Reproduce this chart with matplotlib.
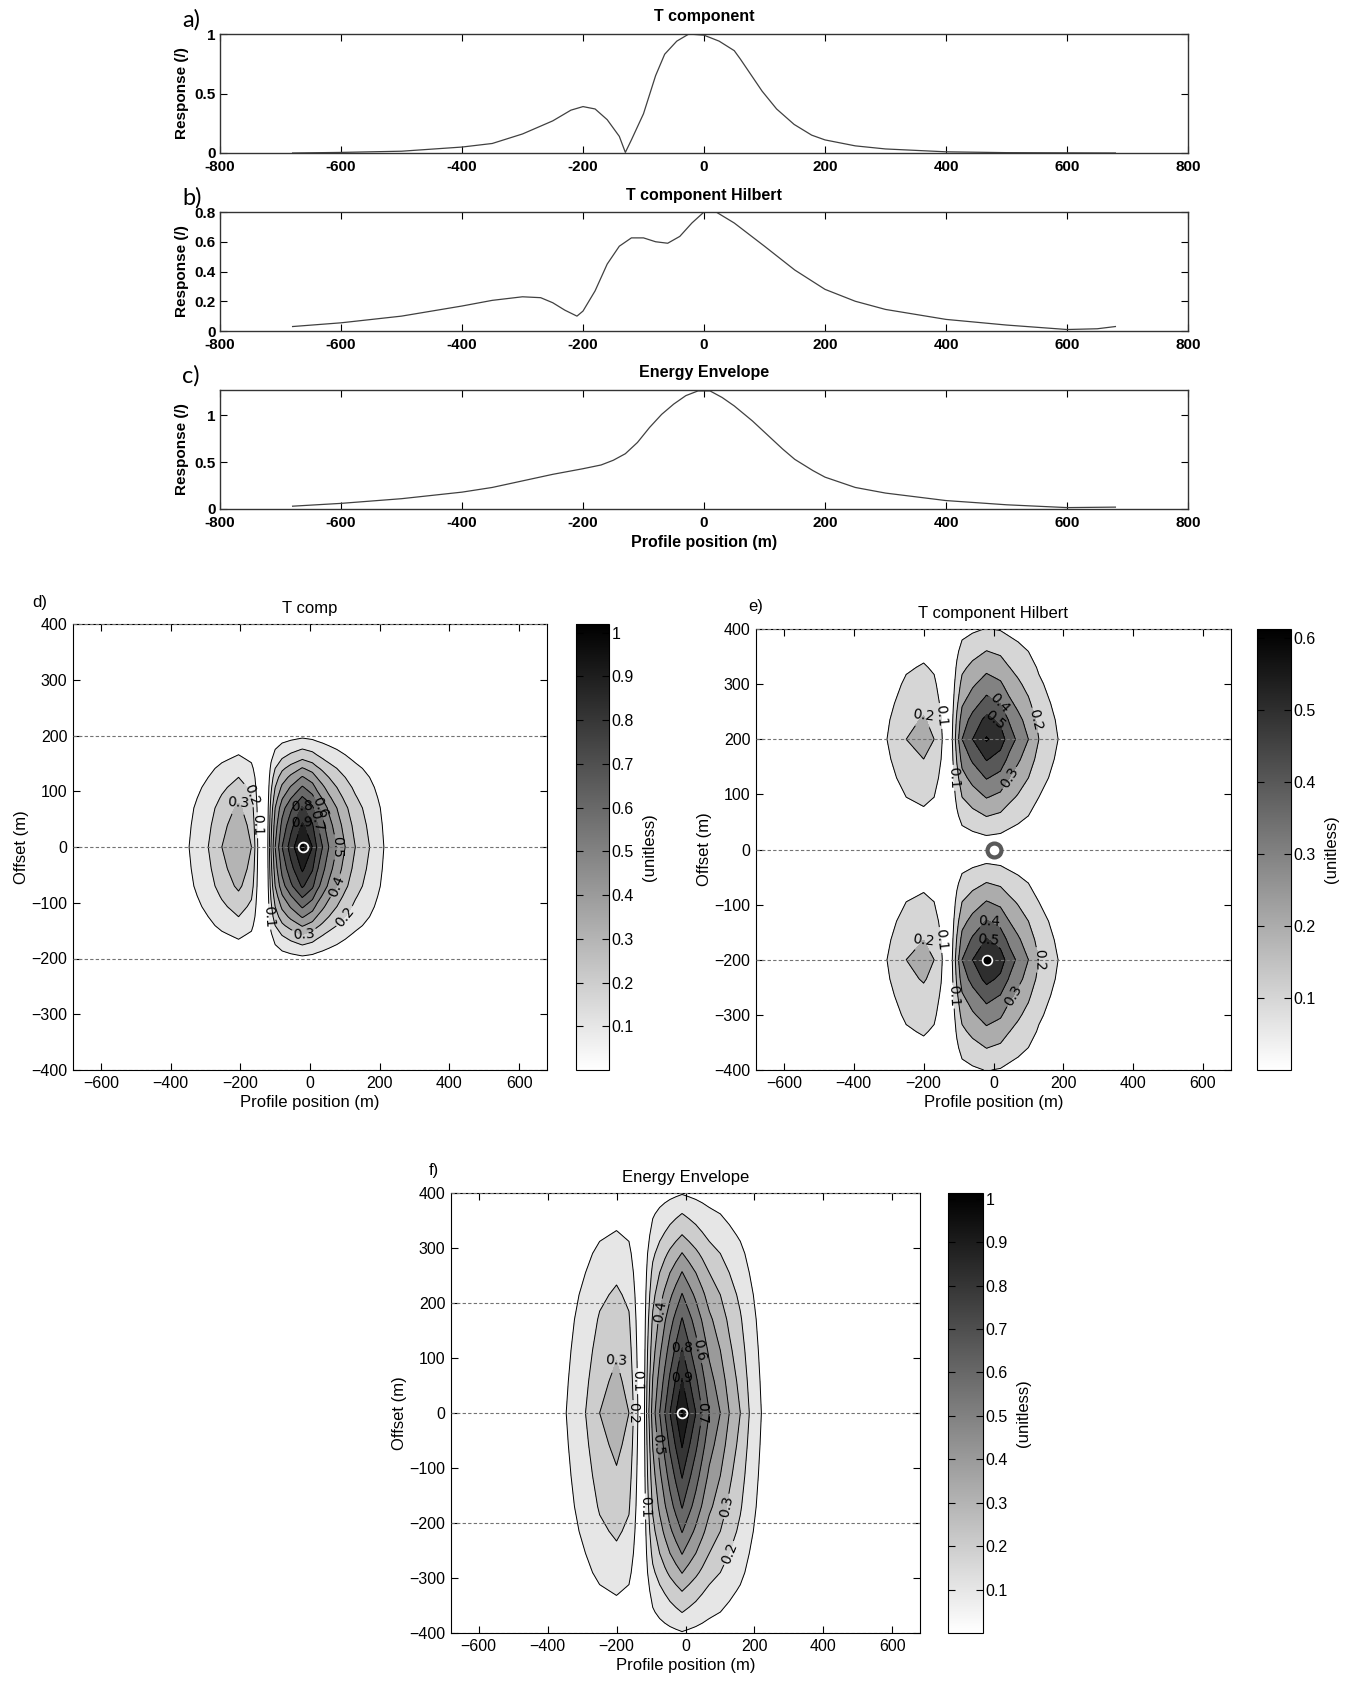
"""
Profile responses (a-c) and plan-view maps (d-f) of the T component,
its Hilbert transform and the energy envelope.
"""

import numpy as np
import matplotlib
matplotlib.use("Agg")
import matplotlib.pyplot as plt
from matplotlib.colors import Normalize
from matplotlib.cm import ScalarMappable

# ── PROFILE CURVES (offset 0) ─────────────────────────────────────
A_X = [-680, -600, -500, -400, -350, -300, -250, -220, -200, -180, -160,
       -140, -130, -120, -100, -80, -65, -45, -25, 0, 25, 50, 60, 96, 120,
       149, 178, 200, 250, 300, 400, 500, 680]
A_Y = [0.0, 0.005, 0.015, 0.05, 0.08, 0.16, 0.27, 0.36, 0.39, 0.37, 0.28,
       0.14, 0.005, 0.11, 0.33, 0.65, 0.83, 0.94, 1.0, 0.99, 0.94, 0.86, 0.79,
       0.52, 0.37, 0.24, 0.15, 0.11, 0.06, 0.034, 0.01, 0.003, 0.0]

B_X = [-680, -600, -500, -400, -350, -300, -270, -250, -230, -210, -200,
       -180, -160, -140, -120, -100, -80, -60, -40, -20, 0, 20, 50, 100, 150,
       200, 250, 300, 400, 500, 600, 650, 680]
B_Y = [0.03, 0.055, 0.10, 0.168, 0.206, 0.23, 0.224, 0.19, 0.14, 0.10, 0.134,
       0.27, 0.45, 0.57, 0.626, 0.626, 0.60, 0.59, 0.636, 0.726, 0.80, 0.80,
       0.726, 0.57, 0.41, 0.28, 0.20, 0.145, 0.078, 0.04, 0.01, 0.015, 0.03]

C_X = [-680, -600, -500, -400, -350, -300, -250, -200, -170, -150, -130,
       -110, -90, -70, -50, -30, -10, 10, 30, 50, 80, 100, 130, 150, 180, 200,
       250, 300, 400, 500, 600, 680]
C_Y = [0.03, 0.06, 0.11, 0.18, 0.23, 0.30, 0.37, 0.43, 0.47, 0.52, 0.59,
       0.71, 0.87, 1.01, 1.12, 1.21, 1.26, 1.26, 1.19, 1.10, 0.94, 0.82, 0.64,
       0.53, 0.41, 0.34, 0.23, 0.17, 0.09, 0.045, 0.015, 0.02]

# ── MAP FIELDS: profile along x  ×  shape along offset (y >= 0) ───
D_X = [-680, -450, -347, -292, -253, -205, -168, -158, -150, -135, -121,
       -112, -100, -80, -55, -22, 7, 19, 36, 54, 77, 101, 130, 171, 212, 280,
       450, 680]
D_P = [0.0, 0.02, 0.1, 0.2, 0.3, 0.4, 0.3, 0.2, 0.1, 0.0, 0.1, 0.3, 0.5,
       0.7, 0.85, 1.02, 0.9, 0.8, 0.7, 0.6, 0.5, 0.4, 0.3, 0.2, 0.1, 0.04,
       0.01, 0.0]
D_OFF = [0, 39, 70, 88, 107, 125, 141, 156, 175, 195, 215, 300, 400]
D_G = [1.0, 0.9, 0.8, 0.7, 0.6, 0.5, 0.4, 0.3, 0.2, 0.1, 0.0, 0.0, 0.0]

E_X = [-680, -500, -400, -350, -305, -250, -200, -170, -150, -130, -118,
       -105, -90, -60, -20, 20, 45, 70, 100, 130, 185, 250, 350, 680]
E_P = [0.0, 0.005, 0.03, 0.06, 0.1, 0.2, 0.24, 0.2, 0.12, 0.0, 0.1, 0.25,
       0.4, 0.5, 0.61, 0.55, 0.45, 0.38, 0.3, 0.2, 0.1, 0.04, 0.01, 0.0]
E_OFF = [0, 26, 61, 95, 130, 164, 200, 235, 265, 300, 330, 360, 400]
E_G = [0.0, 0.167, 0.333, 0.5, 0.667, 0.833, 1.0, 0.87, 0.72, 0.57, 0.45,
       0.33, 0.17]

F_X = [-680, -450, -346, -290, -249, -200, -164, -151, -138, -128, -119,
       -110, -95, -75, -60, -45, -28, -10, 10, 30, 49, 69, 101, 127, 159, 185,
       220, 300, 450, 680]
F_P = [0.0, 0.02, 0.1, 0.2, 0.3, 0.36, 0.3, 0.2, 0.1, 0.0, 0.1, 0.25, 0.45,
       0.6, 0.7, 0.8, 0.9, 1.01, 0.9, 0.8, 0.7, 0.6, 0.5, 0.4, 0.3, 0.2, 0.1,
       0.04, 0.01, 0.0]
F_OFF = [0, 58, 114, 170, 215, 255, 290, 323, 362, 397, 400]
F_G = [1.0, 0.9, 0.8, 0.7, 0.6, 0.5, 0.4, 0.3, 0.2, 0.1, 0.095]

BOLD_FONT = ["Liberation Sans Narrow", "Liberation Sans", "DejaVu Sans"]
PLAIN_FONT = ["Liberation Sans", "DejaVu Sans"]

fig = plt.figure(figsize=(13.54, 16.82), dpi=100)
W, H = 1354.0, 1682.0


def px_axes(left, top, right, bottom):
    return fig.add_axes([left / W, 1 - bottom / H, (right - left) / W,
                         (bottom - top) / H])


# ── TOP: profile curves ───────────────────────────────────────────
TOP_SPECS = [
    (A_X, A_Y, "T component", "a)", 34, 153, 1.0, [0, 0.5, 1]),
    (B_X, B_Y, "T component Hilbert", "b)", 212, 331, 0.8,
     [0, 0.2, 0.4, 0.6, 0.8]),
    (C_X, C_Y, "Energy Envelope", "c)", 390, 509, 1.27, [0, 0.5, 1]),
]

for i, (xs, ys, title, letter, top, bot, ymax, yt) in enumerate(TOP_SPECS):
    ax = px_axes(220, top, 1188, bot)
    ax.plot(xs, ys, color="0.25", linewidth=0.9)
    ax.set_xlim(-800, 800)
    ax.set_ylim(0, ymax)
    ax.set_xticks(range(-800, 801, 200))
    ax.set_yticks(yt)
    ax.set_xticklabels([f"{v:g}" for v in range(-800, 801, 200)])
    ax.set_yticklabels([f"{v:g}" for v in yt])
    ax.tick_params(direction="in", top=True, right=True, length=5)
    ax.tick_params(axis="x", pad=5)
    ax.tick_params(axis="y", pad=3)
    for lab in ax.get_xticklabels() + ax.get_yticklabels():
        lab.set_family(BOLD_FONT)
        lab.set_fontweight("bold")
        lab.set_fontsize(11)
    for s in ax.spines.values():
        s.set_linewidth(1.0)
        s.set_color("0.2")
    ax.set_title(title, family=BOLD_FONT, fontweight="bold", fontsize=11.5,
                 pad=9)
    ax.set_ylabel("Response (/)", family=PLAIN_FONT, fontweight="bold",
                  fontsize=11, labelpad=4)
    fig.text(182 / W, 1 - (top - 14) / H, letter, family=["Lato", "Open Sans"],
             fontsize=17, ha="left", va="center")
    if i == 2:
        ax.set_xlabel("Profile position (m)", family=BOLD_FONT,
                      fontweight="bold", fontsize=11.5, labelpad=4)


# ── BOTTOM: plan-view maps ────────────────────────────────────────
def draw_map(box, cbox, xs, prof, offs, shape, vmax, title, letter, lpos):
    ax = px_axes(*box)
    cax = px_axes(*cbox)
    offs = np.asarray(offs, dtype=float)
    shape = np.asarray(shape, dtype=float)
    y = np.concatenate([-offs[::-1], offs[1:]])
    g = np.concatenate([shape[::-1], shape[1:]])
    z = np.outer(g, np.asarray(prof, dtype=float))

    cmap = plt.get_cmap("gray_r")
    norm = Normalize(0, vmax)
    levels = np.round(np.arange(0.1, vmax + 1e-9, 0.1), 2)
    levels = levels[levels < z.max()]
    fill_levels = list(levels) + [z.max() + 0.01]
    colors = [cmap(norm(v)) for v in levels]
    ax.contourf(xs, y, z, levels=fill_levels, colors=colors)
    cs = ax.contour(xs, y, z, levels=levels, colors="k", linewidths=0.7)
    ax.clabel(cs, fmt=lambda v: f"{v:.1f}", fontsize=10, inline=True,
              inline_spacing=2)

    for yy in (-400, -200, 0, 200, 400):
        ax.axhline(yy, color="0.45", linestyle="--", linewidth=0.8, zorder=5,
                   dashes=(3, 2))

    ax.set_xlim(-680, 680)
    ax.set_ylim(-400, 400)
    ax.set_xticks(range(-600, 601, 200))
    ax.set_yticks(range(-400, 401, 100))
    ax.tick_params(direction="in", top=True, right=True, length=5,
                   labelsize=11.5, pad=4)
    for lab in ax.get_xticklabels() + ax.get_yticklabels():
        lab.set_family(PLAIN_FONT)
    ax.set_xlabel("Profile position (m)", family=PLAIN_FONT, fontsize=12,
                  labelpad=3)
    ax.set_ylabel("Offset (m)", family=PLAIN_FONT, fontsize=12, labelpad=2)
    ax.set_title(title, family=PLAIN_FONT, fontsize=12, pad=8)
    fig.text(lpos[0] / W, 1 - lpos[1] / H, letter, family=PLAIN_FONT,
             fontsize=12, ha="left", va="center")

    cb = fig.colorbar(ScalarMappable(norm=norm, cmap=cmap), cax=cax)
    cb.set_ticks(levels)
    cb.set_ticklabels([f"{v:g}" for v in levels])
    cb.ax.tick_params(direction="in", left=True, right=True, length=5,
                      labelsize=11.5, pad=2)
    for lab in cb.ax.get_yticklabels():
        lab.set_family(PLAIN_FONT)
    cb.outline.set_linewidth(0.8)
    cb.set_label("(unitless)", family=PLAIN_FONT, fontsize=12, labelpad=6)
    return ax


ax_d = draw_map((73, 624, 547, 1070), (576, 624, 609, 1070), D_X, D_P,
                D_OFF, D_G, 1.02, "T comp", "d)", (32, 603))
ax_d.plot([-20], [0], marker="o", ms=7, mfc="none", mec="white", mew=1.3,
          zorder=6)

ax_e = draw_map((756, 629, 1231, 1070), (1257, 629, 1291, 1070), E_X, E_P,
                E_OFF, E_G, 0.612, "T component Hilbert", "e)", (748, 607))
ax_e.plot([0], [0], marker="o", ms=10, mfc="white", mec="0.35", mew=3,
          zorder=6)
ax_e.plot([-20], [-200], marker="o", ms=7, mfc="black", mec="white",
          mew=1.2, zorder=6)

ax_f = draw_map((451, 1193, 920, 1633), (948, 1193, 983, 1633), F_X, F_P,
                F_OFF, F_G, 1.013, "Energy Envelope", "f)", (429, 1170))
ax_f.plot([-10], [0], marker="o", ms=7, mfc="none", mec="white", mew=1.3,
          zorder=6)

fig.savefig("out.png", dpi=100)
